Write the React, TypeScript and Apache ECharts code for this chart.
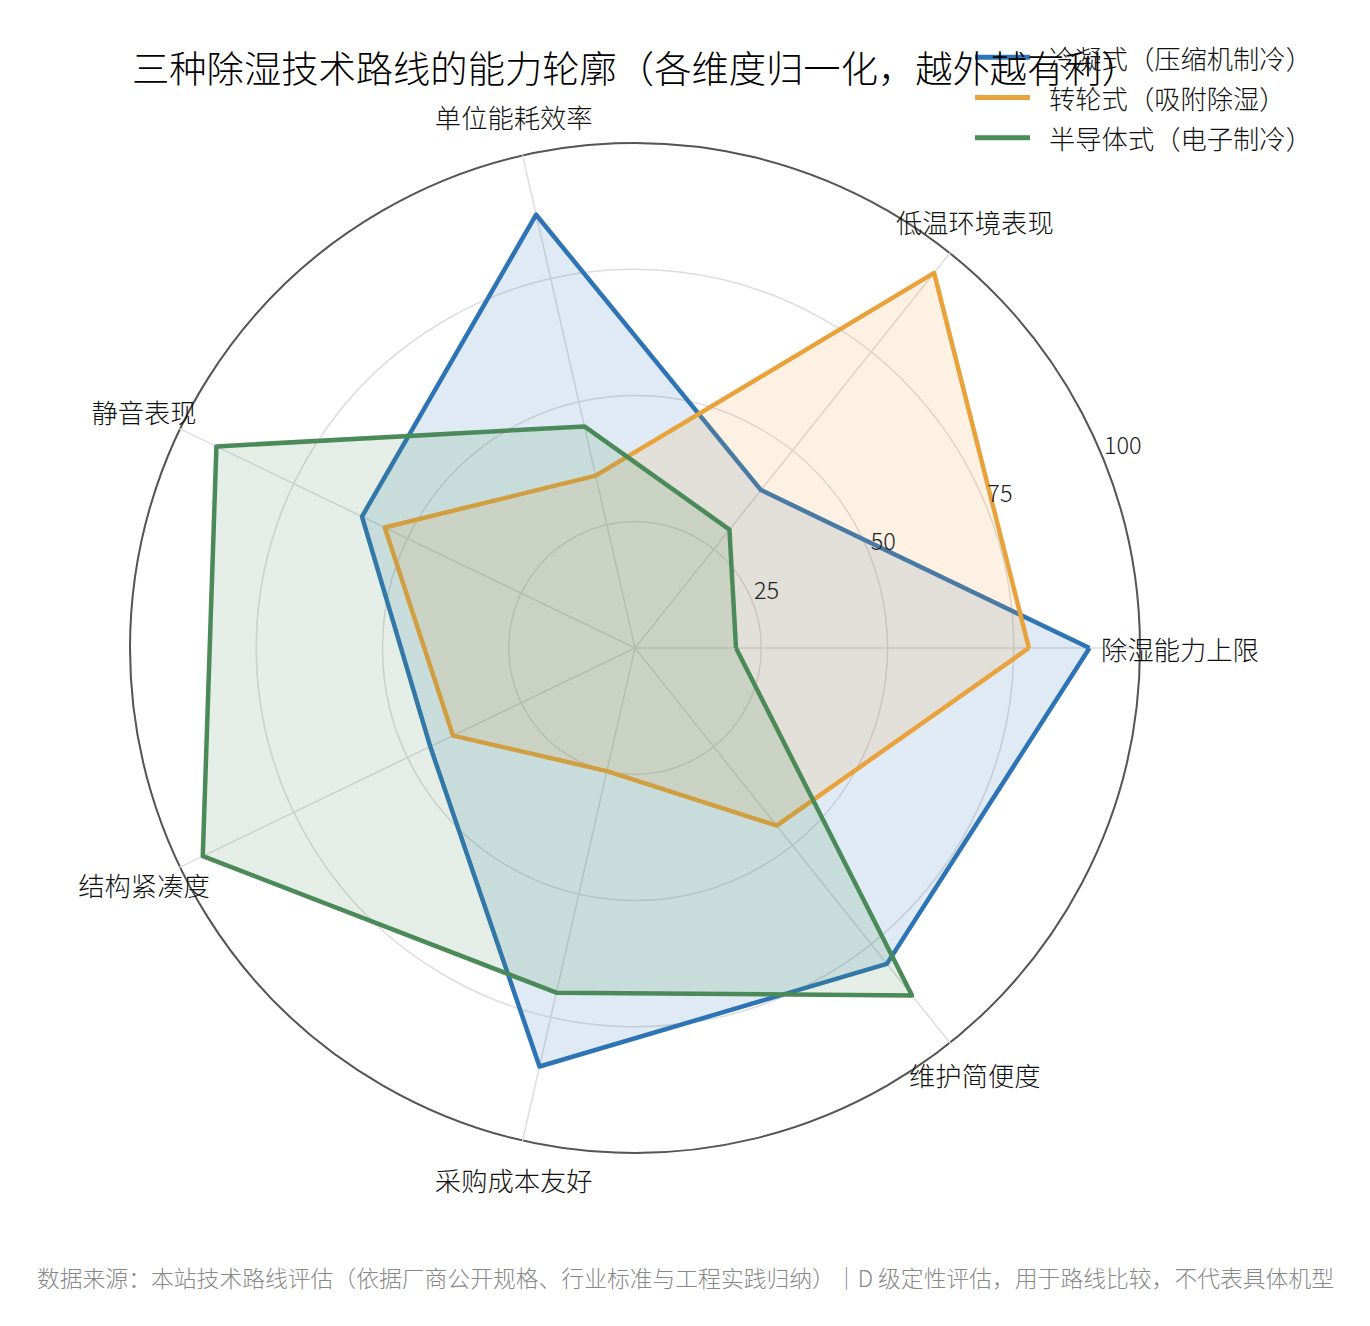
import React, { useEffect, useRef } from "react";
import * as echarts from "echarts";

const titleText = "三种除湿技术路线的能力轮廓（各维度归一化，越外越有利）";
const footerText =
  "数据来源：本站技术路线评估（依据厂商公开规格、行业标准与工程实践归纳）｜D 级定性评估，用于路线比较，不代表具体机型";

const indicators = ["除湿能力上限", "低温环境表现", "单位能耗效率", "静音表现", "结构紧凑度", "采购成本友好", "维护简便度"];
const seriesNames = ["冷凝式（压缩机制冷）", "转轮式（吸附除湿）", "半导体式（电子制冷）"];
const condensing = [90, 40, 88, 60, 45, 85, 80];
const desiccant = [78, 95, 35, 55, 40, 25, 45];
const peltier = [20, 30, 45, 92, 95, 70, 88];
const colors = ["#2e75b6", "#e8a33d", "#4b8a59"];
const radialTicks = [0, 25, 50, 75, 100];

const FONT = "'Noto Sans CJK SC', 'Noto Sans', sans-serif";
const W = 300;

export default function App() {
  const ref = useRef<HTMLDivElement>(null);
  useEffect(() => {
    if (!ref.current) return;
    const chart = echarts.init(ref.current, undefined, { renderer: "svg" });
    const values = [condensing, desiccant, peltier];
    const option: any = {
      animation: false,
      backgroundColor: "#ffffff",
      textStyle: { fontFamily: FONT, fontWeight: W },
      title: [
        {
          text: titleText,
          left: 132,
          top: 48,
          padding: 0,
          textStyle: { fontFamily: FONT, fontSize: 37.3, fontWeight: W, color: "#000" },
        },
        {
          text: footerText,
          left: 37,
          top: 1266,
          padding: 0,
          textStyle: { fontFamily: FONT, fontSize: 22.8, fontWeight: W, color: "#888" },
        },
      ],
      legend: {
        data: seriesNames,
        orient: "vertical",
        left: 975,
        top: 44,
        padding: 0,
        itemWidth: 55,
        itemHeight: 5,
        itemGap: 14,
        icon: "rect",
        textStyle: { fontFamily: FONT, fontSize: 26.3, fontWeight: W, color: "#111", padding: [0, 0, 0, 14] },
      },
      polar: { center: [635, 648], radius: 505 },
      angleAxis: {
        type: "value",
        min: 0,
        max: 360,
        startAngle: 22.5,
        axisLine: { show: true, lineStyle: { color: "#555", width: 2 } },
        axisTick: { show: false },
        axisLabel: { show: false },
        splitLine: { show: false },
      },
      radiusAxis: {
        type: "value",
        min: radialTicks[0],
        max: radialTicks[radialTicks.length - 1],
        interval: 25,
        axisLine: { show: false },
        axisTick: { show: false },
        splitLine: { show: false },
        z: 10,
        axisLabel: {
          show: true,
          fontFamily: FONT,
          fontSize: 23.5,
          fontWeight: W,
          color: "#222",
          align: "left",
          verticalAlign: "middle",
          margin: 12,
          padding: [0, 0, 0, 7],
          formatter: (v: number) => (v === 0 ? "" : String(v)),
        },
      },
      radar: {
        center: [635, 648],
        radius: 505,
        startAngle: 0,
        shape: "circle",
        splitNumber: 4,
        nameGap: 40,
        indicator: indicators.map((name) => ({ name, min: 0, max: 100 })),
        axisName: {
          fontFamily: FONT,
          fontSize: 26.3,
          fontWeight: W,
          color: "#111",
          align: "center",
          verticalAlign: "middle",
        },
        splitLine: { lineStyle: { color: "#dddddd", width: 1.5 } },
        splitArea: { show: false },
        axisLine: { lineStyle: { color: "#dddddd", width: 1.5 } },
        axisTick: { show: false },
        axisLabel: { show: false },
      },
      series: [
        {
          type: "radar",
          symbol: "none",
          data: seriesNames.map((name, i) => ({
            name,
            value: values[i],
            lineStyle: { color: colors[i], width: 4.5 },
            itemStyle: { color: colors[i] },
            areaStyle: { color: colors[i], opacity: 0.15 },
          })),
        },
      ],
    };
    chart.setOption(option);
    return () => chart.dispose();
  }, []);
  return (
    <div
      ref={ref}
      style={{ position: "absolute", left: 0, top: 0, width: 1370, height: 1326, background: "#fff" }}
    />
  );
}
